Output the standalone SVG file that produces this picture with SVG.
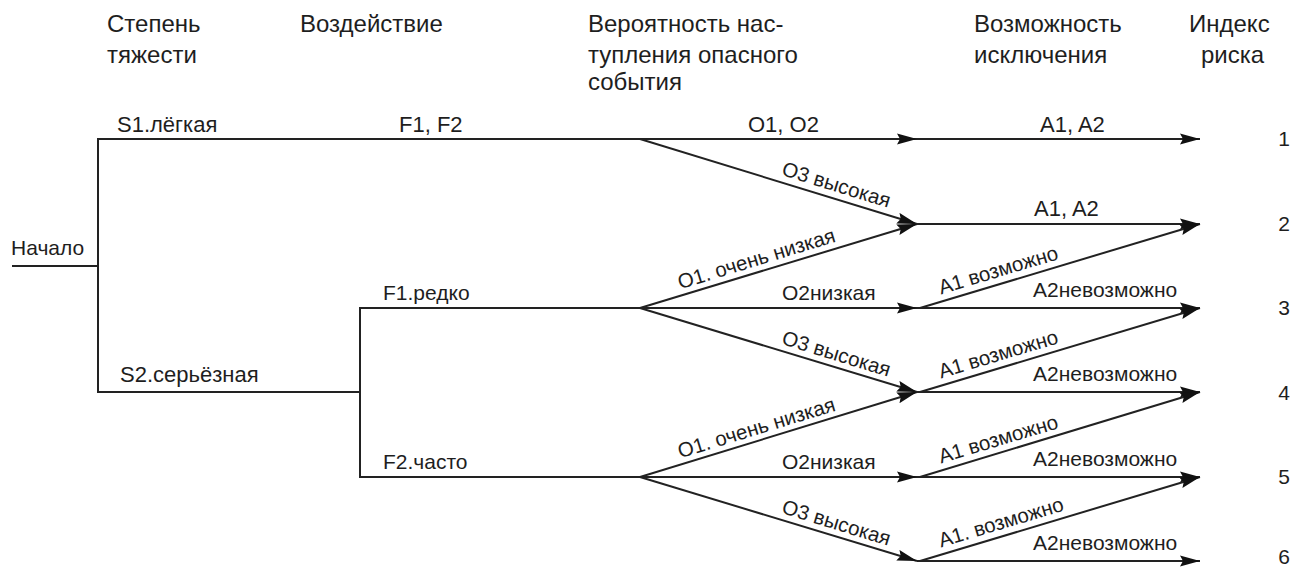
<svg xmlns="http://www.w3.org/2000/svg" width="1296" height="567" viewBox="0 0 1296 567">
<style>
  text { font-family: "Liberation Sans", Arial, sans-serif; fill: #1e1e1e; }
  .h { font-size: 24px; }
  .l { font-size: 21px; }
  .r { font-size: 20.5px; }
  .n { font-size: 21px; text-anchor: middle; }
  .c line { stroke: #222; stroke-width: 2; fill: none; }
  .c .a { marker-end: url(#arr); }
</style>
<defs>
  <marker id="arr" markerUnits="userSpaceOnUse" markerWidth="22" markerHeight="14" refX="20" refY="6" orient="auto">
    <path d="M0,0.5 L20,6 L0,11.5 L3,6 z" fill="#111"/>
  </marker>
</defs>
<rect width="1296" height="567" fill="#fff"/>

<g id="headers">
  <text class="h" x="107" y="32">Степень</text>
  <text class="h" x="107" y="63">тяжести</text>
  <text class="h" x="300" y="32">Воздействие</text>
  <text class="h" x="588" y="32">Вероятность нас-</text>
  <text class="h" x="588" y="63">тупления опасного</text>
  <text class="h" x="588" y="90">события</text>
  <text class="h" x="974" y="32">Возможность</text>
  <text class="h" x="974" y="63">исключения</text>
  <text class="h" x="1189" y="32">Индекс</text>
  <text class="h" x="1201" y="63">риска</text>
</g>

<g id="connectors" class="c">
  <line x1="12" y1="266" x2="98" y2="266"/>
  <line x1="98" y1="138" x2="98" y2="393"/>
  <line x1="97" y1="139" x2="640" y2="139"/>
  <line x1="97" y1="392" x2="360" y2="392"/>
  <line x1="360" y1="307" x2="360" y2="478"/>
  <line x1="359" y1="308" x2="640" y2="308"/>
  <line x1="359" y1="477" x2="640" y2="477"/>
  <line class="a" x1="640" y1="139" x2="917" y2="139"/>
  <line class="a" x1="640" y1="139" x2="917" y2="224"/>
  <line class="a" x1="640" y1="308" x2="917" y2="224"/>
  <line class="a" x1="640" y1="308" x2="917" y2="308"/>
  <line class="a" x1="640" y1="308" x2="917" y2="392"/>
  <line class="a" x1="640" y1="477" x2="917" y2="392"/>
  <line class="a" x1="640" y1="477" x2="917" y2="477"/>
  <line class="a" x1="640" y1="477" x2="917" y2="561"/>
  <line class="a" x1="917" y1="139" x2="1200" y2="139"/>
  <line class="a" x1="917" y1="224" x2="1200" y2="224"/>
  <line class="a" x1="920" y1="308" x2="1200" y2="224"/>
  <line class="a" x1="917" y1="308" x2="1200" y2="308"/>
  <line class="a" x1="920" y1="392" x2="1200" y2="308"/>
  <line class="a" x1="917" y1="392" x2="1200" y2="392"/>
  <line class="a" x1="920" y1="477" x2="1200" y2="392"/>
  <line class="a" x1="917" y1="477" x2="1200" y2="477"/>
  <line class="a" x1="920" y1="561" x2="1200" y2="477"/>
  <line class="a" x1="917" y1="561" x2="1200" y2="561"/>
</g>

<g id="node-start">
  <text class="l" x="11" y="255">Начало</text>
</g>
<g id="node-severity">
  <text class="l" x="117" y="132" style="font-size:22px">S1.лёгкая</text>
  <text class="l" x="120" y="382" style="font-size:22px">S2.серьёзная</text>
</g>
<g id="node-frequency">
  <text class="l" x="399" y="132" style="font-size:22px">F1, F2</text>
  <text class="l" x="383" y="300">F1.редко</text>
  <text class="l" x="383" y="469">F2.часто</text>
</g>
<g id="node-probability">
  <text class="l" x="748" y="132" style="font-size:22px">O1, O2</text>
  <text class="r" transform="translate(640,139) rotate(17.06)" x="145" y="-7">O3 высокая</text>
  <text class="r" transform="translate(640,308) rotate(-17.06)" x="44" y="-6">O1. очень низкая</text>
  <text class="l" x="782" y="300">O2низкая</text>
  <text class="r" transform="translate(640,308) rotate(17.06)" x="145" y="-7">O3 высокая</text>
  <text class="r" transform="translate(640,477) rotate(-17.06)" x="44" y="-6">O1. очень низкая</text>
  <text class="l" x="782" y="469">O2низкая</text>
  <text class="r" transform="translate(640,477) rotate(17.06)" x="145" y="-7">O3 высокая</text>
</g>
<g id="node-avoidance">
  <text class="l" x="1040" y="132" style="font-size:22px">A1, A2</text>
  <text class="l" x="1034" y="216" style="font-size:22px">A1, A2</text>
  <text class="r" transform="translate(920,308) rotate(-16.7)" x="24" y="-7">A1 возможно</text>
  <text class="l" x="1033" y="297">A2невозможно</text>
  <text class="r" transform="translate(920,392) rotate(-16.7)" x="24" y="-7">A1 возможно</text>
  <text class="l" x="1033" y="381">A2невозможно</text>
  <text class="r" transform="translate(920,477) rotate(-16.7)" x="24" y="-7">A1 возможно</text>
  <text class="l" x="1033" y="466">A2невозможно</text>
  <text class="r" transform="translate(920,561) rotate(-16.7)" x="24" y="-7">A1. возможно</text>
  <text class="l" x="1033" y="550">A2невозможно</text>
</g>
<g id="node-risk">
  <text class="n" x="1284" y="146">1</text>
  <text class="n" x="1284" y="231">2</text>
  <text class="n" x="1284" y="315">3</text>
  <text class="n" x="1284" y="400">4</text>
  <text class="n" x="1284" y="484">5</text>
  <text class="n" x="1284" y="564">6</text>
</g>
</svg>
